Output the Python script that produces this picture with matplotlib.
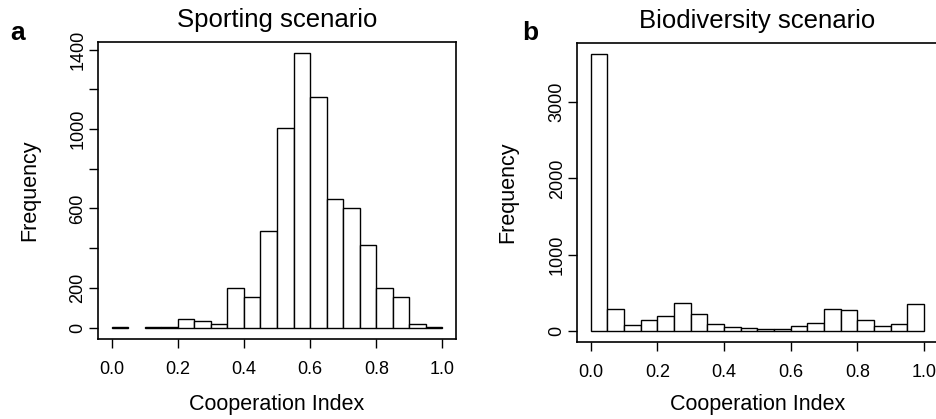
import matplotlib
matplotlib.use("Agg")
import matplotlib.pyplot as plt
import numpy as np

plt.rcParams["font.family"] = ["Liberation Sans", "DejaVu Sans"]

# Histogram bin edges (width 0.05 on [0, 1])
bin_edges = [round(0.05 * i, 2) for i in range(21)]

# Counts per bin
sporting_counts = [5, 0, 2, 4, 45, 33, 17, 201, 154, 485,
                   1005, 1384, 1161, 646, 600, 414, 201, 154, 17, 5]
biodiversity_counts = [3636, 288, 79, 149, 197, 367, 218, 92, 57, 39,
                       22, 22, 66, 109, 284, 275, 140, 61, 92, 358]

x_ticks = [0.0, 0.2, 0.4, 0.6, 0.8, 1.0]
x_tick_labels = ["0.0", "0.2", "0.4", "0.6", "0.8", "1.0"]

sporting_yticks = [0, 200, 400, 600, 800, 1000, 1200, 1400]
sporting_ylabels = ["0", "200", "", "600", "", "1000", "", "1400"]
biodiversity_yticks = [0, 1000, 2000, 3000]
biodiversity_ylabels = ["0", "1000", "2000", "3000"]

W, H = 937, 419
fig = plt.figure(figsize=(W / 100, H / 100), dpi=100)


def px_axes(left, top, right, bottom):
    return fig.add_axes([left / W, 1 - bottom / H, (right - left) / W, (bottom - top) / H])


def draw_hist(ax, counts, yticks, ylabels, title, label_x, xlabel_y):
    lefts = np.array(bin_edges[:-1])
    widths = np.diff(bin_edges)
    counts = np.array(counts)
    keep = counts > 0
    ax.bar(lefts[keep], counts[keep], width=widths[keep], align="edge",
           facecolor="white", edgecolor="black", linewidth=1.0)
    ymax = counts.max()
    ax.set_xlim(-0.04, 1.04)
    ax.set_ylim(-0.04 * ymax, 1.04 * ymax)
    ax.set_xticks(x_ticks)
    ax.set_xticklabels(x_tick_labels)
    ax.set_yticks(yticks)
    ax.set_yticklabels(ylabels, rotation=90, va="center")
    ax.tick_params(axis="both", direction="out", length=6.5, width=1.0,
                   labelsize=13, color="black")
    ax.tick_params(axis="x", pad=9.5)
    ax.tick_params(axis="y", pad=2)
    for s in ax.spines.values():
        s.set_linewidth(1.2)
    ax.set_xlabel("Cooperation Index", fontsize=15.5)
    ax.xaxis.set_label_coords(0.5, xlabel_y)
    ax.xaxis.label.set_va("center")
    ax.set_ylabel("Frequency", fontsize=15.5)
    ax.yaxis.set_label_coords(label_x, 0.5)
    ax.yaxis.label.set_va("center")
    ax.text(0.5, 1.05, title, transform=ax.transAxes, ha="center",
            va="baseline", fontsize=18.5)


ax_a = px_axes(98.3, 41.7, 455.7, 338.5)
draw_hist(ax_a, sporting_counts, sporting_yticks, sporting_ylabels,
          "Sporting scenario", -0.191, -0.222)

ax_b = px_axes(577.5, 42.5, 937.2, 342.0)
draw_hist(ax_b, biodiversity_counts, biodiversity_yticks, biodiversity_ylabels,
          "Biodiversity scenario", -0.193, -0.21)

fig.text(10 / W, 1 - 40 / H, "a", fontsize=19, fontweight="bold",
         ha="left", va="baseline")
fig.text(522 / W, 1 - 40 / H, "b", fontsize=19, fontweight="bold",
         ha="left", va="baseline")

fig.savefig("out.png", dpi=100, facecolor="white")
